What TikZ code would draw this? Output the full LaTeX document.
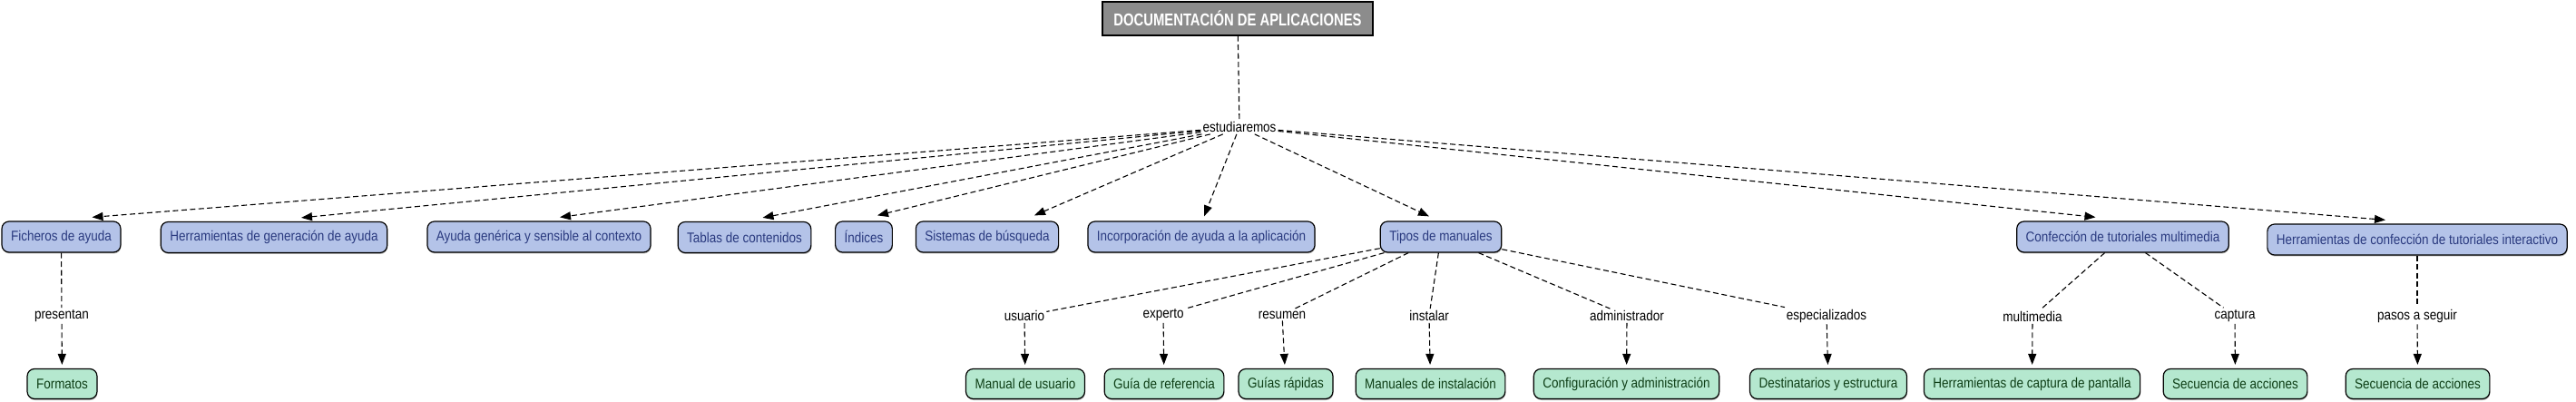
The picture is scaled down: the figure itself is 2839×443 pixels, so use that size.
\documentclass[tikz,border=0pt]{standalone}
\usepackage{fontspec}
\setmainfont{Liberation Sans}[FakeStretch=0.87]
\newfontfamily\titlefont{Liberation Sans}[FakeStretch=0.78]
\usetikzlibrary{arrows.meta,shadows}
\definecolor{conceptfill}{HTML}{B4C3E8}
\definecolor{concepttext}{HTML}{2A3A7F}
\definecolor{leaffill}{HTML}{B5E8CF}
\definecolor{leaftext}{HTML}{0E3E16}
\definecolor{titlefill}{HTML}{8C8C8C}
\begin{document}
\begin{tikzpicture}[x=1pt,y=-1pt,
    font=\fontsize{15.5}{18}\selectfont,
    >={Triangle[length=12pt,width=9pt]},
    boxshadow/.style={drop shadow={shadow xshift=0.5pt,shadow yshift=-1.5pt,opacity=0.3,fill=black}},
    concept/.style={draw,rounded corners=8pt,fill=conceptfill,text=concepttext,line width=1.2pt,minimum height=34pt,inner xsep=10pt,boxshadow},
    leaf/.style={draw,rounded corners=8pt,fill=leaffill,text=leaftext,line width=1.2pt,minimum height=33pt,inner xsep=10pt,boxshadow},
    linkword/.style={inner sep=2pt},
    rel/.style={dash pattern=on 6pt off 3.5pt,line width=1.1pt}]
    \useasboundingbox (0,0) rectangle (2839,443);

    \node[draw,fill=titlefill,text=white,line width=1.2pt,minimum width=298pt,minimum height=37pt,
          font=\titlefont\bfseries\fontsize{19}{22}\selectfont] (doc) at (1364,20.5) {DOCUMENTACIÓN DE APLICACIONES};
    \node[linkword] (estud) at (1366,140) {estudiaremos};

    \node[concept] (fich)     at (67.5,261)  {Ficheros de ayuda};
    \node[concept] (herrgen)  at (302,261.5) {Herramientas de generación de ayuda};
    \node[concept] (ayudagen) at (594,261)   {Ayuda genérica y sensible al contexto};
    \node[concept] (tablas)   at (820.5,261.5) {Tablas de contenidos};
    \node[concept] (indices)  at (952,261)   {Índices};
    \node[concept] (sistemas) at (1088,261)  {Sistemas de búsqueda};
    \node[concept] (incorp)   at (1324,261)  {Incorporación de ayuda a la aplicación};
    \node[concept] (tipos)    at (1588,261)  {Tipos de manuales};
    \node[concept] (confec)   at (2339.5,261) {Confección de tutoriales multimedia};
    \node[concept] (herrconf) at (2664,264)  {Herramientas de confección de tutoriales interactivo};

    \node[linkword] (presentan)  at (68,348)   {presentan};
    \node[linkword] (usuario)    at (1129,348) {usuario};
    \node[linkword] (experto)    at (1282,347) {experto};
    \node[linkword] (resumen)    at (1413,347) {resumen};
    \node[linkword] (instalar)   at (1575,348) {instalar};
    \node[linkword] (admin)      at (1793,348) {administrador};
    \node[linkword] (especial)   at (2013,348) {especializados};
    \node[linkword] (multimedia) at (2240,349) {multimedia};
    \node[linkword] (captura)    at (2463,348) {captura};
    \node[linkword] (pasos)      at (2664,348) {pasos a seguir};

    \node[leaf] (formatos)   at (68.5,423)   {Formatos};
    \node[leaf] (manualusu)  at (1130,423)   {Manual de usuario};
    \node[leaf] (guiaref)    at (1283,423)   {Guía de referencia};
    \node[leaf] (guiasrap)   at (1417,423)   {Guías rápidas};
    \node[leaf] (manualinst) at (1576.5,423) {Manuales de instalación};
    \node[leaf] (config)     at (1792.5,423) {Configuración y administración};
    \node[leaf] (destin)     at (2015,423)   {Destinatarios y estructura};
    \node[leaf] (herrcap)    at (2239.5,423) {Herramientas de captura de pantalla};
    \node[leaf] (secuen)     at (2463.5,423) {Secuencia de acciones};
    \node[leaf] (secuenint)  at (2664.5,423) {Secuencia de acciones};

    \draw[rel] (doc) -- (estud);
    \draw[rel,->] (estud) -- ([xshift=34pt,yshift=4pt]fich.north);
    \draw[rel,->] (estud) -- ([xshift=30pt,yshift=4pt]herrgen.north);
    \draw[rel,->] (estud) -- ([xshift=23pt,yshift=4pt]ayudagen.north);
    \draw[rel,->] (estud) -- ([xshift=20pt,yshift=4pt]tablas.north);
    \draw[rel,->] (estud) -- ([xshift=15pt,yshift=6pt]indices.north);
    \draw[rel,->] (estud) -- ([xshift=52pt,yshift=6pt]sistemas.north);
    \draw[rel,->] (estud) -- ([xshift=3pt,yshift=5pt]incorp.north);
    \draw[rel,->] (estud) -- ([xshift=-13pt,yshift=5pt]tipos.north);
    \draw[rel,->] (estud) -- ([xshift=-30pt,yshift=4pt]confec.north);
    \draw[rel,->] (estud) -- ([xshift=-35pt,yshift=4pt]herrconf.north);

    \draw[rel] (fich) -- (presentan);
    \draw[rel,->,shorten >=4pt] (presentan) -- (formatos);
    \draw[rel] (tipos) -- (usuario);
    \draw[rel] (tipos) -- (experto);
    \draw[rel] (tipos) -- (resumen);
    \draw[rel] (tipos) -- (instalar);
    \draw[rel] (tipos) -- (admin);
    \draw[rel] (tipos) -- (especial);
    \draw[rel,->,shorten >=4pt] (usuario) -- (manualusu);
    \draw[rel,->,shorten >=4pt] (experto) -- (guiaref);
    \draw[rel,->,shorten >=4pt] (resumen) -- (guiasrap);
    \draw[rel,->,shorten >=4pt] (instalar) -- (manualinst);
    \draw[rel,->,shorten >=4pt] (admin) -- (config);
    \draw[rel,->,shorten >=4pt] (especial) -- (destin);
    \draw[rel] (confec) -- (multimedia);
    \draw[rel] (confec) -- (captura);
    \draw[rel,->,shorten >=4pt] (multimedia) -- (herrcap);
    \draw[rel,->,shorten >=4pt] (captura) -- (secuen);
    \draw[rel] (herrconf) -- (pasos);
    \draw[rel,->,shorten >=4pt] (pasos) -- (secuenint);
\end{tikzpicture}
\end{document}
